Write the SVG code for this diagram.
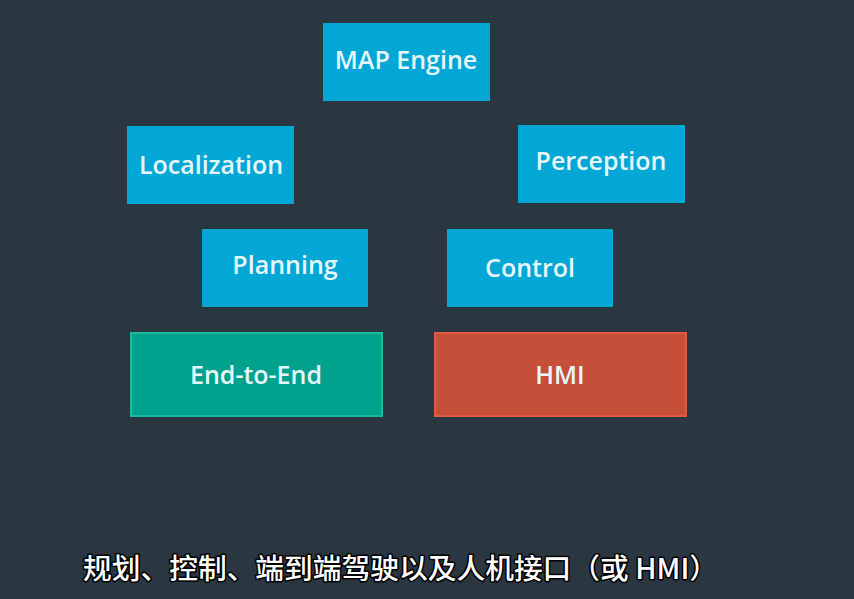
<svg xmlns="http://www.w3.org/2000/svg" width="854" height="599" viewBox="0 0 854 599">
<style>
.b{fill:#02a7d6}
.t{font-family:"Open Sans","Noto Sans",sans-serif;font-size:25px;font-weight:600;fill:#e6f6fa;text-anchor:middle}
.sub{font-family:"Noto Sans CJK SC","Noto Sans",sans-serif;font-size:28px;font-weight:500;fill:#ffffff;stroke:#000;stroke-width:3px;paint-order:stroke;stroke-linejoin:round}
</style>
<rect width="854" height="599" fill="#2a3640"/>
<g id="map"><rect class="b" x="323" y="23" width="167" height="78"/><text class="t" x="406" y="69">MAP Engine</text></g>
<g id="localization"><rect class="b" x="127" y="126" width="167" height="78"/><text class="t" x="211" y="174">Localization</text></g>
<g id="perception"><rect class="b" x="518" y="125" width="167" height="78"/><text class="t" x="601" y="170">Perception</text></g>
<g id="planning"><rect class="b" x="202" y="229" width="166" height="78"/><text class="t" x="285" y="274">Planning</text></g>
<g id="control"><rect class="b" x="447" y="229" width="166" height="78"/><text class="t" x="530" y="277">Control</text></g>
<g id="e2e"><rect x="131" y="333" width="251" height="83" fill="#00a28e" stroke="#1ab9a2" stroke-width="2"/><text class="t" x="256" y="384">End-to-End</text></g>
<g id="hmi"><rect x="435" y="333" width="251" height="83" fill="#c64f39" stroke="#e2593f" stroke-width="2"/><text class="t" x="560" y="384">HMI</text></g>
<g id="connectors"></g>
<text class="sub" x="83" y="579" textLength="635" lengthAdjust="spacingAndGlyphs">规划、控制、端到端驾驶以及人机接口（或 HMI）</text>
</svg>
